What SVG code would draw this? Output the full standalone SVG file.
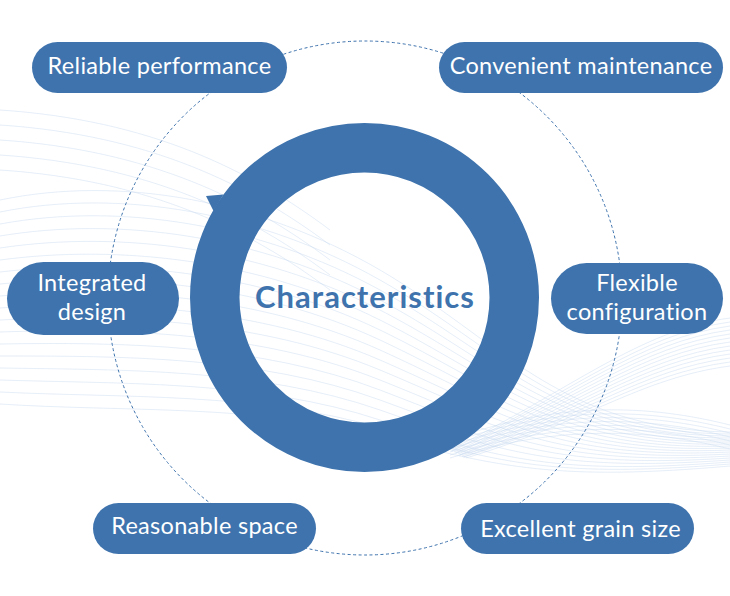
<svg xmlns="http://www.w3.org/2000/svg" width="730" height="596" viewBox="0 0 730 596">
<style>
.pill{fill:#3e73ad}
.lbl{font-family:Lato,"Noto Sans","Liberation Sans",sans-serif;font-size:23.5px;letter-spacing:0.3px;fill:#ffffff;text-anchor:middle}
.title{font-family:Lato,"Noto Sans","Liberation Sans",sans-serif;font-size:31px;font-weight:bold;letter-spacing:1px;font-variant-ligatures:none;fill:#3e73ad;text-anchor:middle}
.wave{fill:none;stroke:#c3d7ee;stroke-width:0.7;opacity:0.6}
.dash{fill:none;stroke:#3e73ad;stroke-width:1;stroke-dasharray:3 2.5}
</style>
<rect width="730" height="596" fill="#ffffff"/>
<g id="background">
<path class="wave" d="M0,200 C120,175 260,200 380,270 S560,430 730,432"/>
<path class="wave" d="M0,212 C120,188 260,212 380,280 S560,433 730,434"/>
<path class="wave" d="M0,224 C120,202 260,224 380,290 S560,436 730,436"/>
<path class="wave" d="M0,236 C120,216 260,236 380,300 S560,439 730,438"/>
<path class="wave" d="M0,248 C120,230 260,248 380,310 S560,442 730,440"/>
<path class="wave" d="M0,260 C120,244 260,260 380,320 S560,445 730,442"/>
<path class="wave" d="M0,272 C120,258 260,272 380,330 S560,448 730,444"/>
<path class="wave" d="M0,284 C120,272 260,284 380,340 S560,451 730,446"/>
<path class="wave" d="M0,296 C120,286 260,296 380,350 S560,454 730,448"/>
<path class="wave" d="M0,308 C120,300 260,308 380,360 S560,457 730,450"/>
<path class="wave" d="M0,320 C120,314 260,320 380,370 S560,460 730,452"/>
<path class="wave" d="M0,332 C120,328 260,332 380,380 S560,463 730,454"/>
<path class="wave" d="M0,344 C120,342 260,344 380,390 S560,466 730,456"/>
<path class="wave" d="M0,356 C120,356 260,356 380,400 S560,469 730,458"/>
<path class="wave" d="M0,368 C120,370 260,368 380,410 S560,472 730,460"/>
<path class="wave" d="M0,380 C120,384 260,380 380,420 S560,475 730,462"/>
<path class="wave" d="M0,392 C120,398 260,392 380,428 S560,478 730,464"/>
<path class="wave" d="M0,404 C120,412 260,404 380,436 S560,481 730,466"/>
<path class="wave" d="M0,110 C150,120 250,170 330,230"/>
<path class="wave" d="M0,125 C150,135 250,185 330,245"/>
<path class="wave" d="M0,140 C150,150 250,200 330,260"/>
<path class="wave" d="M0,155 C150,165 250,215 330,275"/>
<path class="wave" d="M0,170 C150,180 250,230 330,290"/>
<path class="wave" d="M730,318 C640,330 570,390 450,450"/>
<path class="wave" d="M730,322 C640,334 571,393 451,451"/>
<path class="wave" d="M730,326 C640,338 572,396 452,451"/>
<path class="wave" d="M730,330 C640,342 574,398 454,452"/>
<path class="wave" d="M730,334 C640,346 575,401 455,453"/>
<path class="wave" d="M730,338 C640,350 576,404 456,453"/>
<path class="wave" d="M730,342 C640,354 578,406 458,454"/>
<path class="wave" d="M730,346 C640,358 579,409 459,455"/>
<path class="wave" d="M730,350 C640,362 580,412 460,455"/>
<path class="wave" d="M730,354 C640,366 582,414 462,456"/>
<path class="wave" d="M730,358 C640,370 583,417 463,457"/>
<path class="wave" d="M730,362 C640,374 584,420 464,457"/>
<path class="wave" d="M730,366 C640,378 586,422 466,458"/>
<path class="wave" d="M450,440 C560,400 650,405 730,425"/>
<path class="wave" d="M450,443 C560,404 650,409 730,429"/>
<path class="wave" d="M450,446 C560,408 650,413 730,433"/>
<path class="wave" d="M450,449 C560,412 650,417 730,437"/>
<path class="wave" d="M450,452 C560,416 650,421 730,441"/>
<path class="wave" d="M450,455 C560,420 650,425 730,445"/>
<path class="wave" d="M450,458 C560,424 650,429 730,449"/>
</g>
<g id="connectors">
<circle class="dash" cx="365" cy="298" r="257"/>
</g>
<g id="ring">
<circle cx="364.5" cy="297.5" r="149.75" fill="none" stroke="#3e73ad" stroke-width="49.5"/>
<polygon points="206,196 223.5,194.5 213.5,211" fill="#3e73ad"/>
<text class="title" x="365" y="307.5">Characteristics</text>
</g>
<g id="n1">
<rect class="pill" x="32" y="42" width="255" height="51" rx="25.5"/>
<text class="lbl" x="159.5" y="74">Reliable performance</text>
</g>
<g id="n2">
<rect class="pill" x="439" y="42" width="284" height="51" rx="25.5"/>
<text class="lbl" x="581" y="74">Convenient maintenance</text>
</g>
<g id="n3">
<rect class="pill" x="7" y="262" width="172" height="73" rx="36.5"/>
<text class="lbl" x="92" y="291">Integrated</text>
<text class="lbl" x="92" y="320">design</text>
</g>
<g id="n4">
<rect class="pill" x="551" y="263" width="172" height="71" rx="35.5"/>
<text class="lbl" x="637" y="290.5">Flexible</text>
<text class="lbl" x="637" y="320">configuration</text>
</g>
<g id="n5">
<rect class="pill" x="93" y="503" width="223" height="51" rx="25.5"/>
<text class="lbl" x="204.5" y="534">Reasonable space</text>
</g>
<g id="n6">
<rect class="pill" x="461" y="503" width="233" height="51" rx="25.5"/>
<text class="lbl" x="580.5" y="537">Excellent grain size</text>
</g>
</svg>
